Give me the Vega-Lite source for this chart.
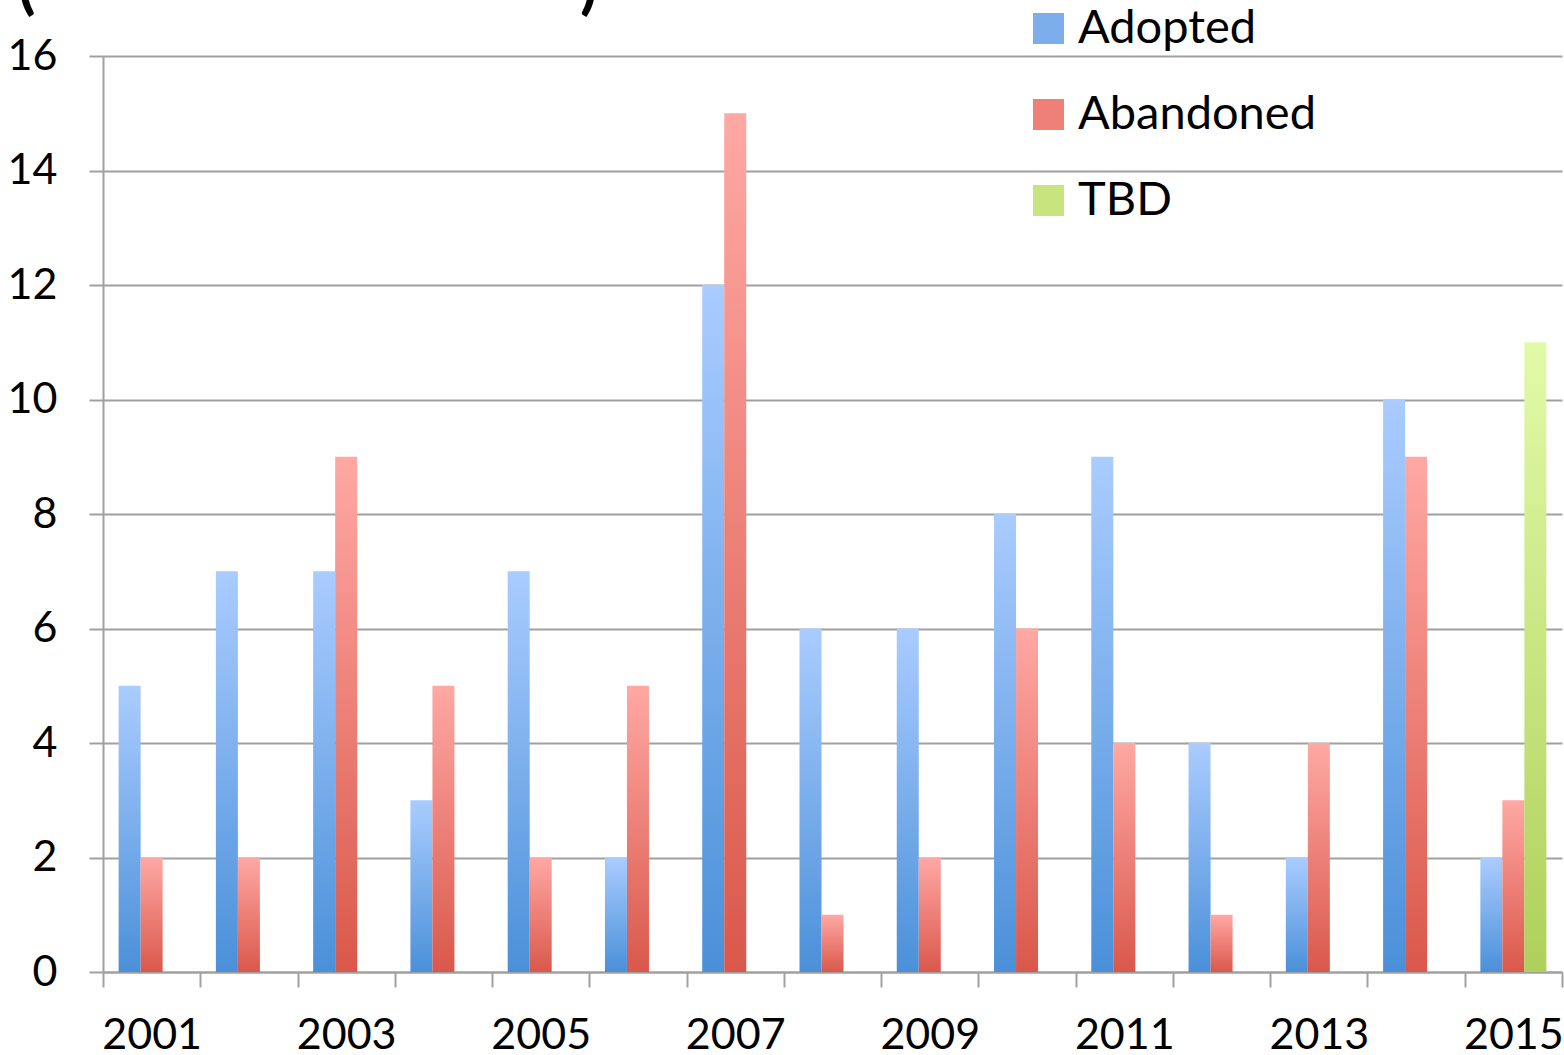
{
  "$schema": "https://vega.github.io/schema/vega-lite/v6.json",
  "width": 1459,
  "height": 916,
  "autosize": "none",
  "padding": {"left": 103, "top": 56, "right": 2, "bottom": 83},
  "background": "white",
  "title": {
    "text": "(\u00a0\u00a0\u00a0\u00a0\u00a0\u00a0\u00a0\u00a0\u00a0\u00a0\u00a0\u00a0\u00a0\u00a0\u00a0\u00a0\u00a0\u00a0\u00a0\u00a0\u00a0\u00a0\u00a0\u00a0\u00a0\u00a0\u00a0\u00a0\u00a0\u00a0\u00a0\u00a0\u00a0\u00a0\u00a0)",
    "anchor": "start",
    "frame": "group",
    "font": "Lato",
    "fontSize": 64,
    "fontWeight": "bold",
    "color": "black",
    "baseline": "alphabetic",
    "dx": -85,
    "dy": 76,
    "offset": 10
  },
  "config": {
    "view": {"stroke": null},
    "font": "Lato"
  },
  "data": {
    "values": [
      {"year": "2001", "series": "Adopted", "count": 5},
      {"year": "2001", "series": "Abandoned", "count": 2},
      {"year": "2002", "series": "Adopted", "count": 7},
      {"year": "2002", "series": "Abandoned", "count": 2},
      {"year": "2003", "series": "Adopted", "count": 7},
      {"year": "2003", "series": "Abandoned", "count": 9},
      {"year": "2004", "series": "Adopted", "count": 3},
      {"year": "2004", "series": "Abandoned", "count": 5},
      {"year": "2005", "series": "Adopted", "count": 7},
      {"year": "2005", "series": "Abandoned", "count": 2},
      {"year": "2006", "series": "Adopted", "count": 2},
      {"year": "2006", "series": "Abandoned", "count": 5},
      {"year": "2007", "series": "Adopted", "count": 12},
      {"year": "2007", "series": "Abandoned", "count": 15},
      {"year": "2008", "series": "Adopted", "count": 6},
      {"year": "2008", "series": "Abandoned", "count": 1},
      {"year": "2009", "series": "Adopted", "count": 6},
      {"year": "2009", "series": "Abandoned", "count": 2},
      {"year": "2010", "series": "Adopted", "count": 8},
      {"year": "2010", "series": "Abandoned", "count": 6},
      {"year": "2011", "series": "Adopted", "count": 9},
      {"year": "2011", "series": "Abandoned", "count": 4},
      {"year": "2012", "series": "Adopted", "count": 4},
      {"year": "2012", "series": "Abandoned", "count": 1},
      {"year": "2013", "series": "Adopted", "count": 2},
      {"year": "2013", "series": "Abandoned", "count": 4},
      {"year": "2014", "series": "Adopted", "count": 10},
      {"year": "2014", "series": "Abandoned", "count": 9},
      {"year": "2015", "series": "Adopted", "count": 2},
      {"year": "2015", "series": "Abandoned", "count": 3},
      {"year": "2015", "series": "TBD", "count": 11}
    ]
  },
  "mark": {"type": "bar", "strokeWidth": 0},
  "encoding": {
    "x": {
      "field": "year",
      "type": "nominal",
      "scale": {"paddingInner": 0, "paddingOuter": 0},
      "axis": {
        "title": null,
        "labelAngle": 0,
        "labelFont": "Lato",
        "labelFontSize": 43,
        "labelColor": "black",
        "labelPadding": 27,
        "labelExpr": "parseInt(datum.value) % 2 === 1 ? datum.value : ''",
        "labelOverlap": false,
        "tickBand": "extent",
        "tickSize": 15,
        "tickColor": "#A0A0A0",
        "tickWidth": 2,
        "domainColor": "#A0A0A0",
        "domainWidth": 2,
        "grid": false
      }
    },
    "xOffset": {
      "field": "series",
      "type": "nominal",
      "scale": {"domain": ["Adopted", "Abandoned", "TBD"], "paddingInner": 0, "paddingOuter": 0.71}
    },
    "y": {
      "field": "count",
      "type": "quantitative",
      "scale": {"domain": [0, 16], "nice": false},
      "axis": {
        "title": null,
        "values": [0, 2, 4, 6, 8, 10, 12, 14, 16],
        "labelFont": "Lato",
        "labelFontSize": 43,
        "labelColor": "black",
        "labelPadding": 32,
        "tickSize": 14,
        "tickColor": "#A0A0A0",
        "tickWidth": 2,
        "domainColor": "#A0A0A0",
        "domainWidth": 2,
        "grid": true,
        "gridColor": "#A0A0A0",
        "gridWidth": 2
      }
    },
    "fill": {
      "field": "series",
      "type": "nominal",
      "scale": {
        "domain": ["Adopted", "Abandoned", "TBD"],
        "range": ["#7BAEEB", "#EE8078", "#C8E47E"]
      },
      "condition": [
        {"test": "datum.series === 'Adopted'", "value": {"gradient": "linear", "x1": 0, "y1": 0, "x2": 0, "y2": 1, "stops": [{"offset": 0, "color": "#AACCFF"}, {"offset": 1, "color": "#4A90D9"}]}},
        {"test": "datum.series === 'Abandoned'", "value": {"gradient": "linear", "x1": 0, "y1": 0, "x2": 0, "y2": 1, "stops": [{"offset": 0, "color": "#FFA8A4"}, {"offset": 1, "color": "#DA584B"}]}},
        {"test": "datum.series === 'TBD'", "value": {"gradient": "linear", "x1": 0, "y1": 0, "x2": 0, "y2": 1, "stops": [{"offset": 0, "color": "#E2FAA8"}, {"offset": 1, "color": "#AED05A"}]}}
      ],
      "legend": {
        "title": null,
        "orient": "none",
        "legendX": 922,
        "legendY": -51,
        "symbolType": "square",
        "symbolSize": 961,
        "symbolStrokeWidth": 0,
        "labelFont": "Lato",
        "labelFontSize": 47,
        "labelColor": "black",
        "labelOffset": 6,
        "rowPadding": 38,
        "labelLimit": 500
      }
    }
  }
}
